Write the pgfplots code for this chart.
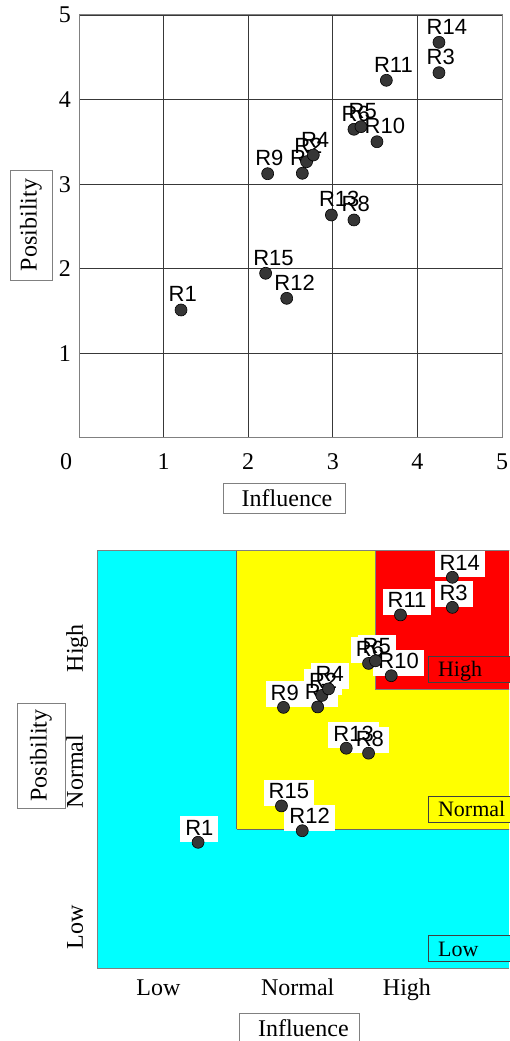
\documentclass[border=0pt]{standalone}
\usepackage{fontspec}
\setmainfont{Liberation Serif}
\newfontfamily\lsans{Liberation Sans}
\usepackage{pgfplots}
\pgfplotsset{compat=1.18}
\usepackage{pgfplotstable}
\definecolor{dotc}{HTML}{363636}
\definecolor{framec}{HTML}{808080}
\definecolor{cyanb}{RGB}{0,255,255}
\definecolor{yellowb}{RGB}{255,255,0}
\definecolor{redb}{RGB}{255,0,0}

\pgfplotstableread{
x y label
1.206 1.513 R1
2.206 1.947 R15
2.455 1.651 R12
2.230 3.124 R9
2.690 3.266 R2
2.770 3.345 R4
2.640 3.129 R7
3.250 3.649 R6
3.333 3.680 R5
3.522 3.502 R10
2.983 2.636 R13
3.250 2.577 R8
3.633 4.228 R11
4.255 4.318 R3
4.255 4.677 R14
}\risks

\begin{document}
\begin{tikzpicture}
\useasboundingbox (0pt,0pt) rectangle (509pt,1041pt);
% ---------- top chart ----------
\begin{axis}[
  at={(79pt,603pt)}, anchor=south west,
  scale only axis, width=423pt, height=423pt,
  xmin=0, xmax=5, ymin=0, ymax=5,
  xtick={1,2,3,4,5}, ytick={1,2,3,4,5},
  extra x ticks={0},
  extra x tick style={grid=none, xticklabel style={xshift=-13pt}},
  major tick length=0pt,
  grid=major, major grid style={black!78, line width=0.8pt},
  axis line style={framec, line width=1pt},
  tick label style={font=\fontsize{24}{28}\selectfont, /pgf/number format/assume math mode=true},
  xticklabel style={anchor=base, inner sep=0pt, yshift=-32pt},
  yticklabel style={anchor=east, inner sep=0pt, xshift=-8pt},
  clip=false,
]
\addplot[draw=none, mark=none, nodes near coords, point meta=explicit symbolic,
  nodes near coords style={anchor=base west, inner sep=0pt, xshift=-12.5pt, yshift=8pt,
    font=\lsans\fontsize{22}{26}\selectfont, text=black}]
  table[x=x, y=y, meta=label]{\risks};
\addplot[only marks, mark=*, mark size=6pt, mark options={fill=dotc, draw=black, line width=0.6pt}]
  table[x=x, y=y]{\risks};
\end{axis}

% ---------- bottom chart ----------
\begin{axis}[
  at={(97.5pt,72pt)}, anchor=south west,
  scale only axis, width=411.5pt, height=418.75pt,
  xmin=0, xmax=4.934, ymin=0, ymax=5,
  axis y line*=left, axis x line*=box,
  xtick={0.73,2.40,3.71}, xticklabels={Low,Normal,High},
  ytick={0.50,2.36,3.83}, yticklabels={Low,Normal,High},
  major tick length=0pt,
  axis line style={framec, line width=1pt, -},
  axis on top,
  axis background/.style={fill=cyanb},
  tick label style={font=\fontsize{24}{28}\selectfont},
  xticklabel style={anchor=base, inner sep=0pt, yshift=-27pt},
  yticklabel style={rotate=90, anchor=south, inner sep=0pt, inner ysep=14.5pt, text depth=0pt},
]
\addplot[fill=yellowb, draw=black!60, line width=0.8pt, mark=none]
  coordinates {(1.6667,1.6667) (5,1.6667) (5,5) (1.6667,5) (1.6667,1.6667)};
\addplot[fill=redb, draw=black!50, line width=0.8pt, mark=none]
  coordinates {(3.3333,3.3333) (5,3.3333) (5,5) (3.3333,5) (3.3333,3.3333)};
% white label backgrounds
\addplot[draw=none, mark=none, nodes near coords={\phantom{\pgfplotspointmeta}}, point meta=explicit symbolic,
  nodes near coords style={anchor=base west, fill=white, inner xsep=5pt, inner ysep=4pt,
    text height=15pt, text depth=3pt, xshift=-18pt, yshift=7pt,
    font=\lsans\fontsize{22}{26}\selectfont}]
  table[x=x, y=y, meta=label]{\risks};
% label texts
\addplot[draw=none, mark=none, nodes near coords, point meta=explicit symbolic,
  nodes near coords style={anchor=base west, inner xsep=5pt, inner ysep=4pt,
    text height=15pt, text depth=3pt, xshift=-18pt, yshift=7pt,
    font=\lsans\fontsize{22}{26}\selectfont, text=black}]
  table[x=x, y=y, meta=label]{\risks};
\addplot[only marks, mark=*, mark size=6pt, mark options={fill=dotc, draw=black, line width=0.6pt}]
  table[x=x, y=y]{\risks};
\end{axis}

% ---------- boxes ----------
\node[draw=framec, line width=0.8pt, minimum width=122pt, minimum height=30pt, inner sep=0pt,
  font=\fontsize{24}{28}\selectfont] at (284pt,543pt) {\hspace*{6pt}Influence};
\node[draw=framec, line width=0.8pt, minimum width=120pt, minimum height=30pt, inner sep=0pt,
  font=\fontsize{24}{28}\selectfont] at (299pt,13pt) {\hspace*{8.7pt}Influence};
\node[draw=framec, line width=0.8pt, rotate=90, minimum width=110pt, minimum height=42pt, inner sep=0pt,
  font=\fontsize{24}{28}\selectfont] at (31pt,816pt) {Posibility};
\node[draw=framec, line width=0.8pt, rotate=90, minimum width=105pt, minimum height=48pt, inner sep=0pt,
  font=\fontsize{24}{28}\selectfont] at (41pt,285.5pt) {Posibility};

\node[anchor=south west, fill=redb, draw=black!75, line width=0.8pt, inner xsep=10pt, inner ysep=0pt,
  text height=20.3pt, text depth=5.4pt, text width=90pt, font=\fontsize{22}{26}\selectfont]
  at (427.7pt,358.3pt) {High};
\node[anchor=south west, fill=yellowb, draw=black!75, line width=0.8pt, inner xsep=10pt, inner ysep=0pt,
  text height=20.3pt, text depth=5.4pt, text width=90pt, font=\fontsize{22}{26}\selectfont]
  at (427.7pt,218.3pt) {Normal};
\node[anchor=south west, fill=cyanb, draw=black!75, line width=0.8pt, inner xsep=10pt, inner ysep=0pt,
  text height=20.3pt, text depth=5.4pt, text width=90pt, font=\fontsize{22}{26}\selectfont]
  at (427.7pt,79pt) {Low};
\end{tikzpicture}
\end{document}
